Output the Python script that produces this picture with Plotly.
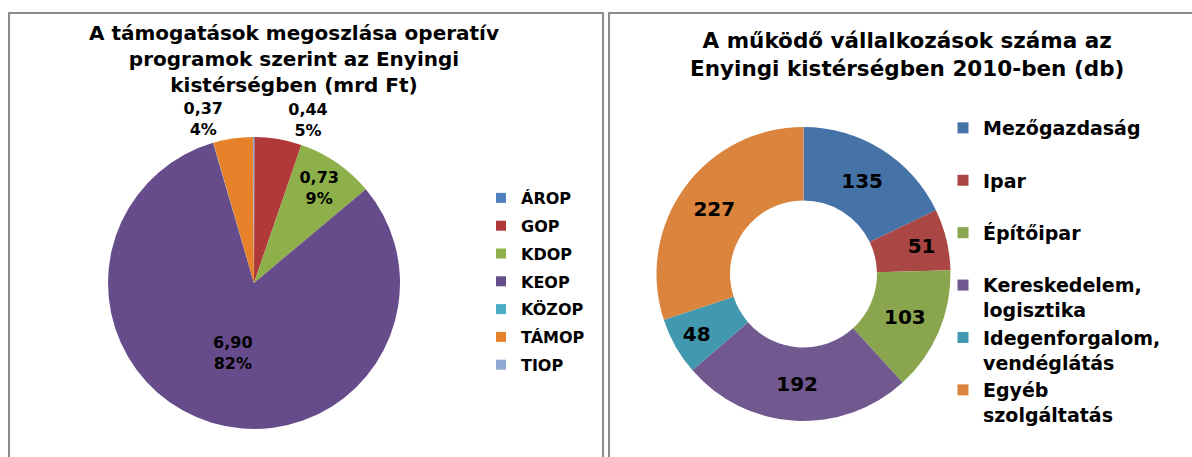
import plotly.graph_objects as go

W, H = 1192, 457

# ---- data: left pie (mrd Ft) ----
op_labels = ["ÁROP", "GOP", "KDOP", "KEOP", "KÖZOP", "TÁMOP", "TIOP"]
op_values = [0.005, 0.44, 0.73, 6.90, 0.003, 0.37, 0.01]
op_colors = ["#4F81BD", "#B2393A", "#8DB04A", "#674C8C", "#4BACC6", "#E8822A", "#8EA9D2"]
op_textpos = ["none", "outside", "inside", "inside", "none", "outside", "none"]

# ---- data: right donut (db) ----
sector_labels = ["Mezőgazdaság", "Ipar", "Építőipar", "Kereskedelem,<br>logisztika",
                 "Idegenforgalom,<br>vendéglátás", "Egyéb<br>szolgáltatás"]
sector_values = [135, 51, 103, 192, 48, 227]
sector_colors = ["#4572A7", "#AA4643", "#89A54E", "#71588F", "#4198AF", "#DB843D"]

title_left = "A támogatások megoszlása operatív<br>programok szerint az Enyingi<br>kistérségben (mrd Ft)"
title_right = "A működő vállalkozások száma az<br>Enyingi kistérségben 2010-ben (db)"

FONT = "DejaVu Sans"


def px(x):
    return x / W


def py(y):
    return 1 - y / H


def dom(cx, cy, r):
    return dict(x=[px(cx - r), px(cx + r)], y=[py(cy + r), py(cy - r)])


fig = go.Figure()

fig.add_trace(go.Pie(
    labels=op_labels, values=op_values, sort=False, direction="clockwise", rotation=0,
    marker=dict(colors=op_colors, line=dict(width=0)),
    textposition=op_textpos, insidetextorientation="horizontal",
    texttemplate="%{value:.2f}<br>%{percent:.0%}",
    textfont=dict(family=FONT, size=16, color="black", weight="bold"),
    domain=dom(254, 283, 146), showlegend=False, hoverinfo="label+value+percent",
))

fig.add_trace(go.Pie(
    labels=sector_labels, values=sector_values, sort=False, direction="clockwise", rotation=0,
    hole=0.5, marker=dict(colors=sector_colors, line=dict(width=0)),
    textposition="inside", insidetextorientation="horizontal",
    texttemplate="%{value}",
    textfont=dict(family=FONT, size=20, color="black", weight="bold"),
    domain=dom(803.5, 274, 147), showlegend=False, hoverinfo="label+value+percent",
))

# legend entries (one per category)
for lab, col in zip(op_labels, op_colors):
    fig.add_trace(go.Scatter(
        x=[None], y=[None], mode="markers", name=lab, legendgroup=lab, legend="legend",
        marker=dict(symbol="square", size=10, color=col),
    ))
for lab, col in zip(sector_labels, sector_colors):
    name = lab if "<br>" in lab else lab + "<br>\u00a0"
    fig.add_trace(go.Scatter(
        x=[None], y=[None], mode="markers", name=name, legendgroup=lab, legend="legend2",
        marker=dict(symbol="square", size=11, color=col),
    ))

shapes = [
    dict(type="rect", xref="paper", yref="paper", x0=px(9), x1=px(603), y0=-0.2, y1=py(13),
         line=dict(color="#8c8c8c", width=2), fillcolor="rgba(0,0,0,0)"),
    dict(type="rect", xref="paper", yref="paper", x0=px(609), x1=1.2, y0=-0.2, y1=py(13),
         line=dict(color="#8c8c8c", width=2), fillcolor="rgba(0,0,0,0)"),
]

annotations = [
    dict(text="<b>" + title_left + "</b>", x=px(294), y=py(59), xref="paper", yref="paper",
         xanchor="center", yanchor="middle", showarrow=False,
         font=dict(family=FONT, size=20, color="black")),
    dict(text="<b>" + title_right + "</b>", x=px(907), y=py(54), xref="paper", yref="paper",
         xanchor="center", yanchor="middle", showarrow=False,
         font=dict(family=FONT, size=21.5, color="black")),
]

fig.update_layout(
    width=W, height=H, margin=dict(l=0, r=0, t=0, b=0),
    paper_bgcolor="white", plot_bgcolor="white",
    separators=", ",
    xaxis=dict(visible=False), yaxis=dict(visible=False),
    shapes=shapes, annotations=annotations,
    legend=dict(x=px(481), y=py(181), xanchor="left", yanchor="top",
                font=dict(family=FONT, size=16, color="black", weight="bold"),
                tracegroupgap=4, itemwidth=30, bgcolor="rgba(0,0,0,0)", itemclick=False),
    legend2=dict(x=px(943), y=py(109), xanchor="left", yanchor="top", valign="top",
                 font=dict(family=FONT, size=19, color="black", weight="bold"),
                 tracegroupgap=0, itemwidth=30, bgcolor="rgba(0,0,0,0)", itemclick=False),
    hovermode=False,
)

fig.write_html("out.html", config={"displayModeBar": False},
               post_script="document.body.style.margin='0';")
